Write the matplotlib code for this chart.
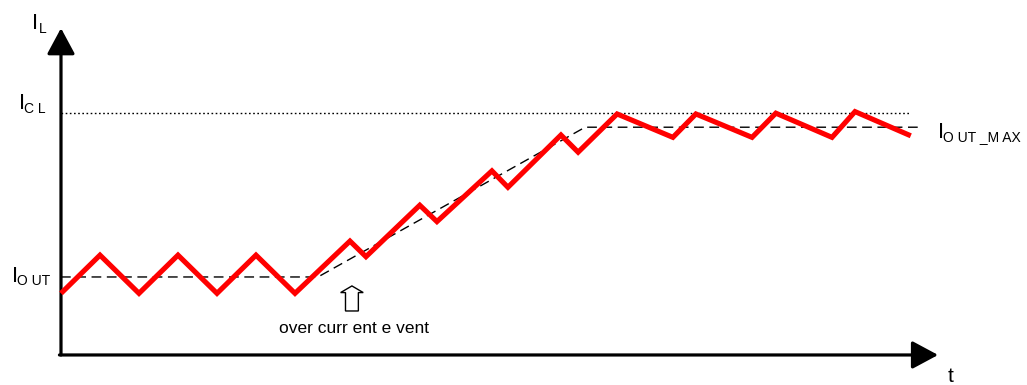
import matplotlib
matplotlib.use("Agg")
import matplotlib.pyplot as plt
from matplotlib.patches import FancyArrow

plt.rcParams["font.family"] = ["Liberation Sans", "DejaVu Sans"]

# inductor current levels (normalised to I_OUT)
I_OUT = 1.0
I_OUT_MAX = 2.92
I_CL = 3.10

# corner points of the inductor current ripple
t_ripple = [0.0, 1.0, 2.0, 3.0, 4.0, 5.0, 6.0, 7.41, 7.82, 9.2, 9.64, 11.05, 11.46,
            12.82, 13.26, 14.26, 15.69, 16.28, 17.72, 18.33, 19.77, 20.36, 21.79]
i_ripple = [0.79, 1.28, 0.79, 1.28, 0.79, 1.28, 0.79, 1.46, 1.26, 1.92, 1.71, 2.36, 2.15,
            2.82, 2.60, 3.09, 2.79, 3.09, 2.79, 3.10, 2.79, 3.12, 2.81]

# average current: flat, ramps after the event, then flat at I_OUT_MAX
t_avg = [0.0, 6.59, 13.44, 21.97]
i_avg = [I_OUT, I_OUT, I_OUT_MAX, I_OUT_MAX]

t_event = 7.46
t_end = 21.77

fig = plt.figure(figsize=(10.27, 3.85), dpi=100)
ax = fig.add_axes([0, 0, 1, 1])
ax.set_xlim(-1.564, 24.77)
ax.set_ylim(-0.385, 4.551)
ax.axis("off")

# axes with arrow heads
arrow = dict(arrowstyle="-|>,head_length=0.8,head_width=0.43", color="black",
             lw=2.3, mutation_scale=20, shrinkA=0, shrinkB=0)
ax.annotate("", xy=(0, 4.19), xytext=(0, 0), arrowprops=arrow)
ax.annotate("", xy=(22.49, 0), xytext=(-0.04, 0), arrowprops=arrow)

# current limit and average current
ax.plot([0, t_end], [I_CL, I_CL], color="black", lw=1.0, ls=(0, (1.2, 1.8)))
ax.plot(t_avg, i_avg, color="black", lw=1.0, ls=(0, (7, 4)))

# inductor current
ax.plot(t_ripple, i_ripple, color="#ff0000", lw=3.7, solid_joinstyle="miter",
        solid_capstyle="butt", zorder=3)

# over current event marker
ax.add_patch(FancyArrow(t_event, 0.564, 0, 0.885 - 0.564, width=0.33,
                        head_width=0.58, head_length=0.085,
                        length_includes_head=True, fc="white", ec="black", lw=1.0))
ax.text(t_event + 0.05, 0.282, "over curr ent e vent", fontsize=12.5,
        ha="center", va="baseline")

# level labels
def level_label(x, y, sub, dx=0.14, drop=0.045):
    ax.text(x, y, "I", fontsize=16, va="baseline")
    ax.text(x + dx, y - drop, sub, fontsize=10, va="baseline")

level_label(-0.744, 4.179, "L", dx=0.18)
level_label(-1.077, I_CL + 0.05, "C L", dx=0.13)
level_label(-1.26, 0.936, "O UT", dx=0.12)
level_label(22.49, 2.782, "O UT _M AX", dx=0.13)

ax.text(22.74, -0.15, "t", fontsize=15, va="top")

fig.savefig("out.png", dpi=100)
